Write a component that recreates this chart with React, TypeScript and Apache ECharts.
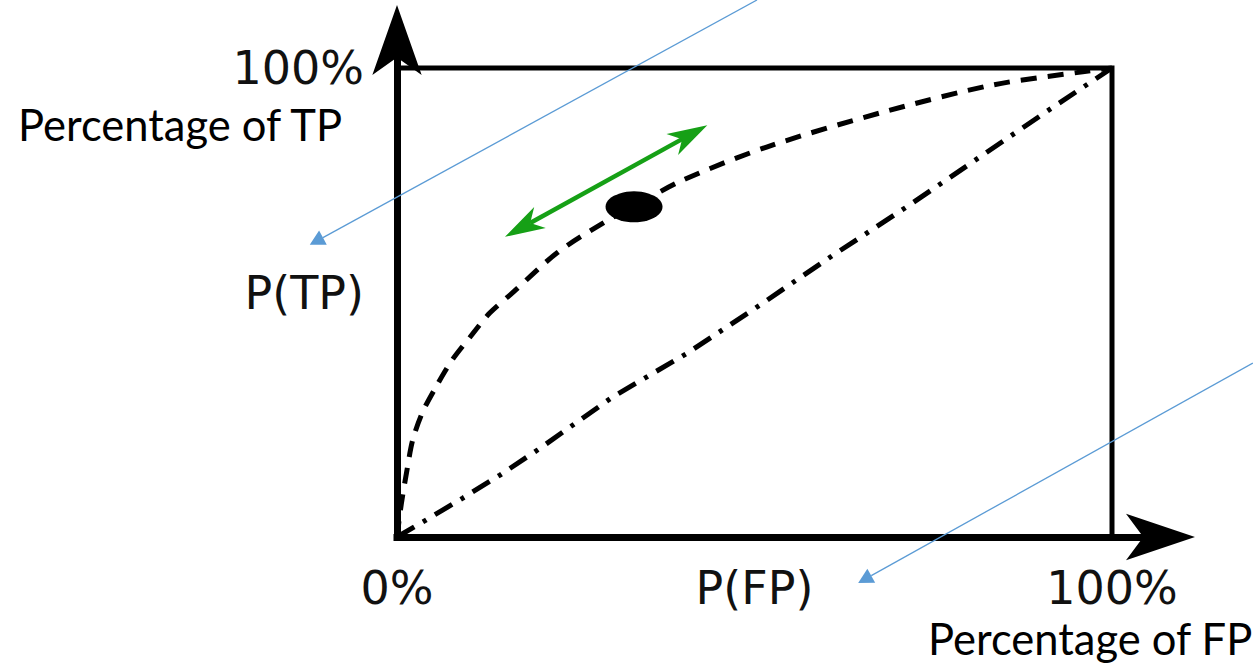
import React, { useEffect, useRef } from "react";
import * as echarts from "echarts";

// ROC-style curve (dashed), in percent
const rocX = [0, 0.6, 1.4, 2.2, 3.6, 5.6, 7.7, 10.2, 13.0, 16.1, 22.4, 29.1, 33.0, 40.0, 51.8, 68.0, 83.4, 95.9, 100];
const rocY = [0, 7.0, 14.3, 20.7, 26.7, 32.4, 37.7, 42.6, 47.8, 52.0, 60.6, 67.2, 70.4, 76.1, 83.2, 90.6, 96.4, 99.2, 100];

// chance line (dash-dot), in percent
const diagX = [0, 3.6, 9.2, 14.4, 19.7, 30.2, 40.6, 50.8, 61.0, 71.3, 81.5, 91.8, 100];
const diagY = [0, 3.2, 8.3, 13.2, 18.6, 29.9, 39.2, 49.5, 60.1, 70.4, 81.0, 91.7, 100];

// frame (top and right edges)
const boxX = [0, 100, 100];
const boxY = [100, 100, 0];

// operating point on the curve
const operatingPoint = [33.15, 70.4];

// green double arrow along the curve: x1, y1, x2, y2
const tradeoffArrow = [15.1, 64.0, 43.4, 87.8];

// blue callout arrows: from (x1, y1) to tip (x2, y2)
const calloutArrows = [
  [50.35, 114.5, -12.2, 62.3],
  [119.7, 37.1, 64.5, -9.8],
];

const xTickLabels: Record<number, string> = { 0: "0%", 50: "P(FP)", 100: "100%" };
const yTickLabels: Record<number, string> = { 52: "P(TP)", 100: "100%" };

const yAxisCaption = "Percentage of TP";
const xAxisCaption = "Percentage of FP";

function arrowHead(tip: number[], tail: number[], len: number, half: number, notch: number) {
  const dx = tip[0] - tail[0];
  const dy = tip[1] - tail[1];
  const d = Math.sqrt(dx * dx + dy * dy) || 1;
  const ux = dx / d;
  const uy = dy / d;
  const nx = -uy;
  const ny = ux;
  const bx = tip[0] - ux * len;
  const by = tip[1] - uy * len;
  const notchPt = [tip[0] - ux * len * notch, tip[1] - uy * len * notch];
  return {
    points: [tip, [bx + nx * half, by + ny * half], notchPt, [bx - nx * half, by - ny * half]],
    notch: notchPt,
  };
}

export default function App() {
  const ref = useRef<HTMLDivElement>(null);

  useEffect(() => {
    if (!ref.current) return;
    const chart = echarts.init(ref.current, null, { renderer: "svg" });
    const labelFont = "'DejaVu Sans', sans-serif";
    const captionFont = "43.5px Lato, 'Open Sans', sans-serif";

    const option: any = {
      animation: false,
      backgroundColor: "#ffffff",
      grid: {
        left: 397,
        right: 105.25,
        top: 49.24,
        bottom: 127,
        containLabel: false,
        outerBoundsMode: "none",
      },
      xAxis: {
        type: "value",
        min: 0,
        max: 105,
        interval: 50,
        splitLine: { show: false },
        axisTick: { show: false },
        axisLine: {
          show: true,
          onZero: false,
          symbol: ["none", "arrow"],
          symbolSize: [35, 69],
          symbolOffset: [0, 47.25],
          lineStyle: { color: "#000", width: 7, cap: "square" },
        },
        axisLabel: {
          show: true,
          margin: 34,
          lineHeight: 34,
          color: "#111",
          fontFamily: labelFont,
          fontSize: 46,
          showMaxLabel: true,
          formatter: (v: number) => xTickLabels[Math.round(v)] ?? "",
        },
      },
      yAxis: {
        type: "value",
        min: 0,
        max: 104,
        interval: 4,
        splitLine: { show: false },
        axisTick: { show: false },
        axisLine: {
          show: true,
          onZero: false,
          symbol: ["none", "arrow"],
          symbolSize: [37, 70],
          symbolOffset: [0, 44.24],
          lineStyle: { color: "#000", width: 7, cap: "square" },
        },
        axisLabel: {
          show: true,
          margin: 33,
          color: "#111",
          fontFamily: labelFont,
          fontSize: 46,
          formatter: (v: number) => yTickLabels[Math.round(v)] ?? "",
        },
      },
      series: [
        {
          type: "line",
          name: "frame",
          data: boxX.map((x, i) => [x, boxY[i]]),
          symbol: "none",
          silent: true,
          lineStyle: { color: "#000", width: 5, cap: "square", join: "miter" },
          z: 2,
        },
        {
          type: "line",
          name: "chance",
          data: diagX.map((x, i) => [x, diagY[i]]),
          symbol: "none",
          silent: true,
          lineStyle: { color: "#000", width: 5, type: [20, 10, 4, 10], cap: "butt" },
          z: 3,
        },
        {
          type: "line",
          name: "roc",
          data: rocX.map((x, i) => [x, rocY[i]]),
          symbol: "none",
          smooth: 0.3,
          silent: true,
          lineStyle: { color: "#000", width: 5, type: [16, 11], cap: "butt" },
          z: 3,
        },
        {
          type: "scatter",
          name: "point",
          data: [operatingPoint],
          symbol: "circle",
          symbolSize: [57, 31],
          itemStyle: { color: "#000", opacity: 1 },
          silent: true,
          z: 4,
        },
        {
          type: "custom",
          name: "tradeoff",
          data: [tradeoffArrow],
          silent: true,
          z: 5,
          renderItem: (params: any, api: any) => {
            const a = api.coord([api.value(0), api.value(1)]);
            const b = api.coord([api.value(2), api.value(3)]);
            const hA = arrowHead(a, b, 40, 12, 0.72);
            const hB = arrowHead(b, a, 40, 12, 0.72);
            const color = "#16a016";
            return {
              type: "group",
              children: [
                {
                  type: "line",
                  shape: { x1: hA.notch[0], y1: hA.notch[1], x2: hB.notch[0], y2: hB.notch[1] },
                  style: { stroke: color, lineWidth: 4.5 },
                },
                { type: "polygon", shape: { points: hA.points }, style: { fill: color } },
                { type: "polygon", shape: { points: hB.points }, style: { fill: color } },
              ],
            };
          },
        },
        {
          type: "custom",
          name: "callouts",
          data: calloutArrows,
          silent: true,
          z: 6,
          renderItem: (params: any, api: any) => {
            const a = api.coord([api.value(0), api.value(1)]);
            const b = api.coord([api.value(2), api.value(3)]);
            const h = arrowHead(b, a, 15, 8, 1);
            const color = "#5b9bd5";
            return {
              type: "group",
              children: [
                {
                  type: "line",
                  shape: { x1: a[0], y1: a[1], x2: h.notch[0], y2: h.notch[1] },
                  style: { stroke: color, lineWidth: 1.3 },
                },
                { type: "polygon", shape: { points: h.points }, style: { fill: color } },
              ],
            };
          },
        },
      ],
      graphic: [
        {
          type: "text",
          left: 18,
          top: 102,
          style: { text: yAxisCaption, font: captionFont, fill: "#000" },
        },
        {
          type: "text",
          left: 928,
          top: 616,
          style: { text: xAxisCaption, font: captionFont, fill: "#000", lineHeight: 40 },
        },
      ],
    };

    chart.setOption(option);
    return () => chart.dispose();
  }, []);

  return (
    <div
      ref={ref}
      style={{ position: "fixed", left: 0, top: 0, width: 1253, height: 664, background: "#fff" }}
    />
  );
}
